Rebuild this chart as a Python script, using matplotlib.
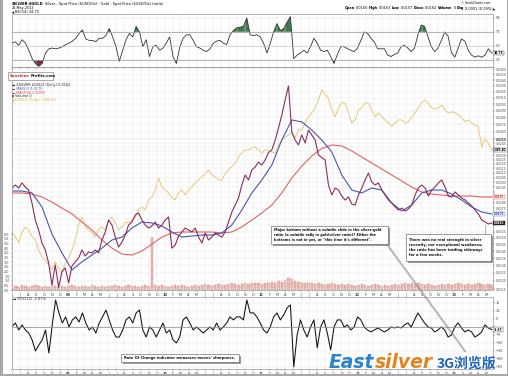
import matplotlib
matplotlib.use("Agg")
import matplotlib.pyplot as plt
import matplotlib.dates as mdates
from matplotlib.lines import Line2D
from matplotlib.patches import Rectangle
from matplotlib.ticker import NullLocator
import numpy as np
import pandas as pd

W, H = 508, 376
first_day, last_day = "2008-06-01", "2013-05-23"
view_start, view_end = "2008-06-01", "2013-05-28"

# $SILVER:$GOLD close, sampled about every 12 days
ratio = [0.01942, 0.01973, 0.01942, 0.01994, 0.01952, 0.01922, 0.01797, 0.01645, 0.01562, 0.01460,
         0.01408, 0.01316, 0.01175, 0.01303, 0.01160, 0.01257, 0.01283, 0.01187, 0.01296, 0.01324,
         0.01351, 0.01408, 0.01365, 0.01394, 0.01387, 0.01408, 0.01387, 0.01483, 0.01546, 0.01645,
         0.01603, 0.01506, 0.01430, 0.01467, 0.01522, 0.01603, 0.01628, 0.01689, 0.01706, 0.01645,
         0.01603, 0.01578, 0.01595, 0.01628, 0.01578, 0.01603, 0.01645, 0.01672, 0.01422, 0.01445,
         0.01514, 0.01546, 0.01578, 0.01562, 0.01546, 0.01578, 0.01506, 0.01460, 0.01538, 0.01483,
         0.01506, 0.01538, 0.01522, 0.01506, 0.01546, 0.01628, 0.01715, 0.01778, 0.01844, 0.01973,
         0.02078, 0.02025, 0.02133, 0.02166, 0.02222, 0.02188, 0.02246, 0.02335, 0.02366, 0.02491,
         0.02650, 0.02836, 0.03066, 0.03297, 0.02597, 0.02491, 0.02428, 0.02557, 0.02453, 0.02624,
         0.02557, 0.02491, 0.02305, 0.02275, 0.02246, 0.01973, 0.01873, 0.01942, 0.01922, 0.01863,
         0.01825, 0.01854, 0.01787, 0.01778, 0.01873, 0.01942, 0.02025, 0.02099, 0.02004, 0.01973,
         0.01994, 0.01922, 0.01873, 0.01825, 0.01797, 0.01761, 0.01733, 0.01750, 0.01724, 0.01741,
         0.01778, 0.01873, 0.01942, 0.01973, 0.01942, 0.01863, 0.01922, 0.01952, 0.01994, 0.02025,
         0.01952, 0.01863, 0.01854, 0.01903, 0.01873, 0.01844, 0.01825, 0.01797, 0.01769, 0.01733,
         0.01698, 0.01645, 0.01628, 0.01612, 0.01620]

# $GOLD overlay
gold = [905, 886, 860, 905, 931, 917, 886, 871, 826, 797,
        785, 765, 745, 777, 753, 737, 769, 793, 826, 871,
        941, 980, 931, 917, 905, 886, 917, 931, 917, 966,
        980, 953, 917, 931, 953, 953, 966, 980, 1018, 1034,
        1018, 1072, 1088, 1129, 1200, 1147, 1129, 1112, 1083, 1072,
        1112, 1129, 1100, 1129, 1147, 1169, 1189, 1208, 1230, 1253,
        1221, 1208, 1189, 1189, 1230, 1253, 1275, 1297, 1340, 1368,
        1390, 1390, 1405, 1412, 1390, 1368, 1390, 1390, 1375, 1368,
        1427, 1464, 1484, 1503, 1518, 1484, 1543, 1543, 1600, 1651,
        1686, 1730, 1803, 1900, 1860, 1820, 1712, 1651, 1730, 1780,
        1770, 1686, 1600, 1625, 1712, 1730, 1780, 1770, 1712, 1651,
        1686, 1651, 1625, 1600, 1575, 1600, 1625, 1625, 1600, 1610,
        1651, 1686, 1730, 1780, 1803, 1770, 1730, 1720, 1730, 1757,
        1712, 1686, 1695, 1686, 1668, 1643, 1610, 1625, 1600, 1583,
        1570, 1412, 1475, 1440, 1390]

ma50 = [0.01912, 0.01912, 0.01893, 0.01760, 0.01530, 0.01387, 0.01270, 0.01324, 0.01372, 0.01422,
        0.01483, 0.01506, 0.01578, 0.01628, 0.01620, 0.01595, 0.01546, 0.01506, 0.01514, 0.01522,
        0.01522, 0.01538, 0.01603, 0.01733, 0.01893, 0.02025, 0.02188, 0.02491, 0.02764, 0.02736,
        0.02624, 0.02491, 0.02342, 0.02078, 0.01922, 0.01893, 0.01942, 0.01922, 0.01797, 0.01724,
        0.01778, 0.01893, 0.01922, 0.01922, 0.01882, 0.01825, 0.01760, 0.01715, 0.01698]

ma200 = [0.01893, 0.01893, 0.01882, 0.01854, 0.01806, 0.01750, 0.01698, 0.01628, 0.01562, 0.01483,
         0.01422, 0.01379, 0.01372, 0.01401, 0.01452, 0.01506, 0.01538, 0.01546, 0.01546, 0.01546,
         0.01546, 0.01538, 0.01546, 0.01587, 0.01645, 0.01706, 0.01778, 0.01893, 0.02046, 0.02177,
         0.02293, 0.02384, 0.02428, 0.02416, 0.02354, 0.02281, 0.02211, 0.02144, 0.02078, 0.02014,
         0.01952, 0.01903, 0.01882, 0.01873, 0.01863, 0.01863, 0.01863, 0.01854, 0.01854]

volume = [0.3, 0.4, 0.3, 0.5, 0.4, 0.3, 0.4, 0.5, 0.4, 0.3,
          0.4, 0.3, 0.5, 0.4, 0.3, 0.4, 0.3, 0.4, 0.5, 0.4,
          0.3, 0.4, 0.4, 0.3, 0.5, 0.4, 0.3, 0.4, 0.3, 0.4,
          0.4, 0.5, 0.4, 0.3, 0.4, 0.5, 0.4, 0.4, 0.3, 0.4,
          0.5, 0.4, 5.7, 0.5, 0.4, 0.5, 0.4, 0.3, 0.4, 0.5,
          0.4, 0.5, 0.4, 0.3, 0.4, 0.5, 0.4, 0.5, 0.6, 0.5,
          0.4, 0.5, 0.6, 0.5, 0.5, 0.6, 0.7, 0.6, 0.5, 0.6,
          0.7, 0.6, 0.7, 0.8, 0.7, 0.6, 0.7, 0.8, 0.9, 0.8,
          1.0, 0.9, 1.1, 1.3, 1.2, 1.0, 0.9, 0.8, 0.7, 0.8,
          0.7, 0.6, 0.7, 0.6, 0.5, 0.6, 0.7, 0.6, 0.5, 0.6,
          0.5, 0.6, 0.5, 0.4, 0.5, 0.6, 0.5, 0.4, 0.5, 0.6,
          0.5, 0.4, 0.5, 0.4, 0.5, 0.6, 0.5, 0.6, 0.7, 0.6,
          0.7, 0.6, 0.7, 0.6, 0.5, 0.6, 0.5, 0.4, 0.5, 0.6,
          0.5, 0.6, 0.5, 0.6, 0.7, 0.6, 0.5, 0.6, 0.5, 0.6,
          0.7, 0.6, 0.5, 0.6, 0.5]

rsi = [54, 56, 51, 59, 54, 44, 32, 25, 21, 25, 40, 46, 47, 46, 47, 49, 52, 54, 57, 61,
       68, 73, 60, 58, 58, 56, 61, 61, 65, 75, 63, 49, 28, 44, 59, 68, 63, 78, 70, 49,
       59, 35, 49, 51, 44, 47, 54, 63, 35, 25, 48, 61, 66, 66, 58, 49, 47, 44, 42, 46,
       54, 57, 58, 54, 52, 66, 72, 76, 77, 78, 90, 66,
       65, 66, 63, 54, 40, 54, 70, 82, 72, 75, 84, 92, 32, 37, 40, 44, 40, 49, 61, 54,
       44, 42, 44, 35, 25, 38, 49, 49, 46, 44, 42, 47, 58, 70, 68, 61, 56, 46, 46, 46,
       37, 35, 38, 40, 49, 51, 47, 42, 47, 66, 80, 78, 63, 49, 42, 47, 58, 70, 64, 41,
       34, 47, 60, 57, 44, 37, 34, 36, 34, 37, 46, 40]

roc = [0.2, 2.5, -1.9, 1.3, -1.9, -3.8, -8.1, -15, -11.3, -8.1,
       -1.9, -16.3, 1.3, 16.9, 8.8, 2.5, 6.3, 0, 4.4, 6.3,
       3.1, 8.8, 2.5, -1.9, 0, -3.8, 2.5, 6.3, 10.6, 4.4,
       -1.9, -6.3, -6.3, -1.9, 4.4, 6.3, 2.5, 8.8, 10.6, -1.9,
       -6.3, 0, -1.9, -6.3, -1.9, 2.5, -3.8, -1.9, -8.1, -10,
       -6.3, 4.4, 6.3, 2.5, -1.9, 0, -1.9, -3.8, -1.9, 0,
       -1.9, 2.5, -1.9, 0, 2.5, 6.3, 4.4, 6.3, 6.3, 4.4,
       16.9, 8.8,
       8.8, 6.3, 2.5, -1.9, -3.8, 0, 6.3, 8.8, 4.4, 7.5,
       11.9, 13.8, -25, -5, 4.4, -1.9, -6.3, 0, 4.4, -13,
       0, 4.4, -3.8, -14.4, 0, 4.4, 4.4, 0, 1.3, -1.9,
       0, 6.3, 4.4, 0, -1.9, -3.1, -1.9, -0.6, -1.9, -3.1,
       -1.9, 0, -0.6, 0, -0.6, 1.3, 2.5, 0, 4.4, 8.8,
       5.6, 2.5, 0, -0.6, -3.1, -1.9, 0, -1.9, -6.3, -5,
       0, 2.5, -0.6, -3.1, -1.9, -3.1, -6.3, -5, -3.1, 1.3,
       -0.6, -1.67]

ratio_ticks = np.round(np.r_[np.arange(0.0115, 0.0250, 0.0005), np.arange(0.025, 0.0365, 0.001)], 4)
rsi_ticks = [30, 50, 70, 90]
roc_ticks = [-25, -20, -15, -10, -5, 0, 5, 10, 15]
vol_ticks = np.arange(0, 6.5, 0.5)

month_starts = pd.date_range("2008-06-01", "2013-05-01", freq="MS")
month_labels = ["%02d" % (d.year % 100) if d.month == 1 else d.strftime("%b")[0] for d in month_starts]


def dates_for(values):
    return pd.date_range(first_day, last_day, periods=len(values))


fig = plt.figure(figsize=(W / 100, H / 100), dpi=100)
fig.patch.set_facecolor("white")


def add_ax(x0, y0, x1, y1):
    return fig.add_axes([x0 / W, 1 - y1 / H, (x1 - x0) / W, (y1 - y0) / H])


def style_panel(a, show_dates):
    a.set_xlim(mdates.date2num(pd.Timestamp(view_start)), mdates.date2num(pd.Timestamp(view_end)))
    a.set_xticks(mdates.date2num(month_starts))
    if show_dates:
        a.set_xticklabels(month_labels)
        for lab, d in zip(a.get_xticklabels(), month_starts):
            if d.month == 1:
                lab.set_fontweight("bold")
    else:
        a.tick_params(labelbottom=False)
    a.tick_params(axis="both", labelsize=2.6, length=1.2, width=0.3, pad=1.0, colors="#444444")
    for s in a.spines.values():
        s.set_color("#999999")
        s.set_linewidth(0.5)
    a.grid(True, color="#e6e6e6", lw=0.35)


value_boxes = []


def last_box(a, val, txt, fc="white", ec="#333333", tc="#000000", size=2.2):
    t = a.annotate(txt, xy=(1, val), xycoords=("axes fraction", "data"), xytext=(0.6, 0),
                   textcoords="offset points", fontsize=size, va="center", fontweight="bold", color=tc,
                   bbox=dict(boxstyle="square,pad=0.15", fc=fc, ec=ec, lw=0.3), zorder=20,
                   annotation_clip=False)
    value_boxes.append((a, t))


X0, X1 = 12, 493

# ---- RSI panel
ax_rsi = add_ax(X0, 14, X1, 67)
d = dates_for(rsi)
r = np.array(rsi, dtype=float)
ax_rsi.fill_between(d, r, 70, where=r >= 70, interpolate=True, color="#3f7a4c", lw=0)
ax_rsi.fill_between(d, r, 30, where=r <= 30, interpolate=True, color="#7a2e44", lw=0)
ax_rsi.plot(d, r, color="#333333", lw=0.6)
ax_rsi.axhline(70, color="#9a9a9a", lw=0.5)
ax_rsi.axhline(30, color="#9a9a9a", lw=0.5)
ax_rsi.axhline(50, color="#c4c4c4", lw=0.4)
ax_rsi.set_ylim(20, 95.7)
ax_rsi.yaxis.tick_right()
ax_rsi.set_yticks(rsi_ticks)
style_panel(ax_rsi, False)
last_box(ax_rsi, rsi[-1], "34.75")

# ---- main price panel
ax = add_ax(X0, 67, X1, 290)
ax_gold = ax.twinx()
ax_vol = ax.twinx()
ax.set_zorder(3)
ax_gold.set_zorder(2)
ax_vol.set_zorder(1)
ax.patch.set_visible(False)

ax_vol.bar(dates_for(volume), volume, width=9, color="#ebb7ae", edgecolor="#c98a86", linewidth=0.3)
ax_vol.set_ylim(0, 24)
ax_vol.yaxis.set_ticks_position("left")
ax_vol.set_yticks(vol_ticks)
ax_vol.set_yticklabels(["%.1f" % v for v in vol_ticks])
ax_vol.tick_params(axis="y", labelsize=2.4, length=1.0, width=0.3, pad=0.8, colors="#444444")
for s in ax_vol.spines.values():
    s.set_visible(False)

ax_gold.plot(dates_for(gold), gold, color="#e9c26a", lw=0.7)
ax_gold.set_yscale("log")
ax_gold.set_ylim(671, 2140)
ax_gold.yaxis.set_major_locator(NullLocator())
ax_gold.yaxis.set_minor_locator(NullLocator())
for s in ax_gold.spines.values():
    s.set_visible(False)

ax.plot(dates_for(ma200), ma200, color="#e06262", lw=0.8)
ax.plot(dates_for(ma50), ma50, color="#4657ad", lw=0.8)
ax.plot(dates_for(ratio), ratio, color="#8c2c5e", lw=0.8)
ax.set_yscale("log")
ax.set_ylim(0.011444, 0.03638)
ax.yaxis.tick_right()
ax.set_yticks(ratio_ticks)
ax.set_yticklabels(["%.4f" % v for v in ratio_ticks])
ax.yaxis.set_minor_locator(NullLocator())
style_panel(ax, True)
ax.tick_params(axis="y", labelsize=2.2)
last_box(ax_gold, gold[-1], "1385.40", size=2.0)
last_box(ax, ma200[-1], "0.0185", ec="#d04848", tc="#c03030", size=2.0)
last_box(ax, ma50[-1], "0.0170", ec="#4657ad", tc="#3040a0", size=2.0)
last_box(ax, ratio[-1], "0.0162", fc="#222222", ec="#222222", tc="white", size=2.0)

# ---- ROC panel
ax_roc = add_ax(X0, 297, X1, 369)
ax_roc.plot(dates_for(roc), roc, color="#111111", lw=0.75)
ax_roc.axhline(0, color="#8a8a8a", lw=0.5)
ax_roc.set_ylim(-26.3, 18.75)
ax_roc.yaxis.tick_right()
ax_roc.set_yticks(roc_ticks)
style_panel(ax_roc, True)
ax_roc.tick_params(axis="x", pad=0.9, labelsize=2.4)
last_box(ax_roc, roc[-1], "-1.67")

renderer = fig.canvas.get_renderer()

# the value boxes sit on top of the scale, as on StockCharts: hide the scale labels under them
box_extents = [t.get_window_extent(renderer).padded(1.0) for _, t in value_boxes]
for a in (ax_rsi, ax, ax_roc):
    for lab in a.get_yticklabels():
        bb = lab.get_window_extent(renderer)
        if any(bb.overlaps(e) for e in box_extents):
            lab.set_visible(False)


def put(x, y, text, size=2.6, **kw):
    kw.setdefault("va", "center")
    kw.setdefault("ha", "left")
    return fig.text(x / W, 1 - y / H, text, fontsize=size, **kw)


def chain(x, y, pieces, size=2.6, gap=0.8):
    for text, kw in pieces:
        t = put(x, y, text, size, **kw)
        x = t.get_window_extent(renderer).x1 + gap
    return x


def box(x0, y0, x1, y1):
    fig.patches.append(Rectangle((x0 / W + 1.5 / W, 1 - y1 / H - 1.5 / H), (x1 - x0) / W, (y1 - y0) / H,
                                 transform=fig.transFigure, fc="#9a9a9a", ec="none", zorder=5))
    fig.patches.append(Rectangle((x0 / W, 1 - y1 / H), (x1 - x0) / W, (y1 - y0) / H,
                                 transform=fig.transFigure, fc="white", ec="#555555", lw=0.4, zorder=6))


# header
chain(12, 3.5, [("\\$SILVER:\\$GOLD", dict(fontweight="bold")),
                ("Silver - Spot Price (\\$USD/Oz) : Gold - Spot Price (\\$USD/Oz) (ratio)", {})])
put(12, 7.6, "23-May-2013", 2.4)
put(12, 12, "\u25b2RSI(14) 34.75", 2.5)
put(490, 3.2, "\u00a9 StockCharts.com", 2.2, ha="right")
chain(345, 8.2, [("Open", dict(fontweight="bold")), ("0.0160", {}), ("High", dict(fontweight="bold")),
                 ("0.0163", {}), ("Low", dict(fontweight="bold")), ("0.0157", {}),
                 ("Close", dict(fontweight="bold")), ("0.0162", {}), ("Volume", dict(fontweight="bold")),
                 ("0", {}), ("Chg", dict(fontweight="bold")), ("0.0001 (0.39%)\u25b2", {})], 2.5)

# logo and legend of the price panel
fig.patches.append(Rectangle((8 / W, 1 - 80 / H), 45 / W, 8 / H, transform=fig.transFigure,
                             fc="white", ec="#8a8a8a", lw=0.5, zorder=6))
chain(10, 76, [("Sunshine", dict(color="#cc2a2a", fontweight="bold", zorder=7)),
               ("Profits.com", dict(color="#111111", fontweight="bold", zorder=7))], 2.8)
put(12.5, 85, "\u25ac \\$SILVER:\\$GOLD (Daily) 0.0162", 2.5, color="#222222")
put(12.5, 88.8, "\u25ac MA(50) 0.0170", 2.5, color="#4657ad")
put(12.5, 92.5, "\u25ac MA(200) 0.0185", 2.5, color="#d04848")
put(12.5, 96.2, "\u25ae Volume 0", 2.5, color="#222222")
put(12.5, 100, "\u25b2\\$GOLD (Daily) 1385.40", 2.5, color="#d9aa40")
put(13, 299.5, "\u25ac ROC(12) -1.67%", 2.5, color="#222222")

# comment boxes
box(271, 226, 388, 244)
put(274, 235, "Major bottom without a volatile slide in the silver:gold\n"
              "ratio (a volatile rally in gold:silver ratio)? Either the\n"
              "bottoms is not in yet, or \"this time it's different\".",
    2.5, fontweight="bold", color="#111111", linespacing=1.25, zorder=7)
box(406, 234, 491, 261)
put(409, 247.5, "There was no real strength in silver\n"
                "recently, nor exceptional weakness;\n"
                "the ratio has been trading sideways\n"
                "for a few weeks.",
    2.6, fontweight="bold", color="#111111", linespacing=1.3, zorder=7)
box(121, 354, 239, 362)
put(124, 358, "Rate Of Change indicator measures moves' sharpness.", 2.6,
    fontweight="bold", color="#111111", zorder=7)

# connectors
for off in (0, 1.4):
    fig.add_artist(Line2D([(386 + off) / W, (465 + off) / W], [1 - 244 / H, 1 - 352 / H],
                          transform=fig.transFigure, color="#8a8a8a", lw=0.45, zorder=8))
fig.add_artist(Line2D([485 / W, 485 / W], [1 - 225 / H, 1 - 234 / H],
                      transform=fig.transFigure, color="#8a8a8a", lw=0.45, zorder=8))

# watermark
t_east = put(329, 368.5, "East", 13.5, va="baseline", fontweight="bold", style="italic", color="#2c84cc", zorder=9)
x_next = t_east.get_window_extent(renderer).x1 + 0.5
put(x_next, 368.5, "silver", 13.5, va="baseline", fontweight="bold", style="italic", color="#e2841c", zorder=9)
put(437, 367.5, "3G\u6d4f\u89c8\u7248", 10, va="baseline", fontweight="bold", color="#1f64c0",
    family=["Noto Sans CJK SC", "DejaVu Sans"], zorder=9)

# frame
fig.patches.append(Rectangle((0, 0), 3 / W, 1, transform=fig.transFigure, fc="#a8a8a8", ec="none", zorder=10))
fig.patches.append(Rectangle((0, 0), 1, 2 / H, transform=fig.transFigure, fc="#a8a8a8", ec="none", zorder=10))
fig.patches.append(Rectangle((1 - 1 / W, 0), 1 / W, 1, transform=fig.transFigure, fc="#a8a8a8", ec="none", zorder=10))

fig.savefig("out.png", dpi=100)
